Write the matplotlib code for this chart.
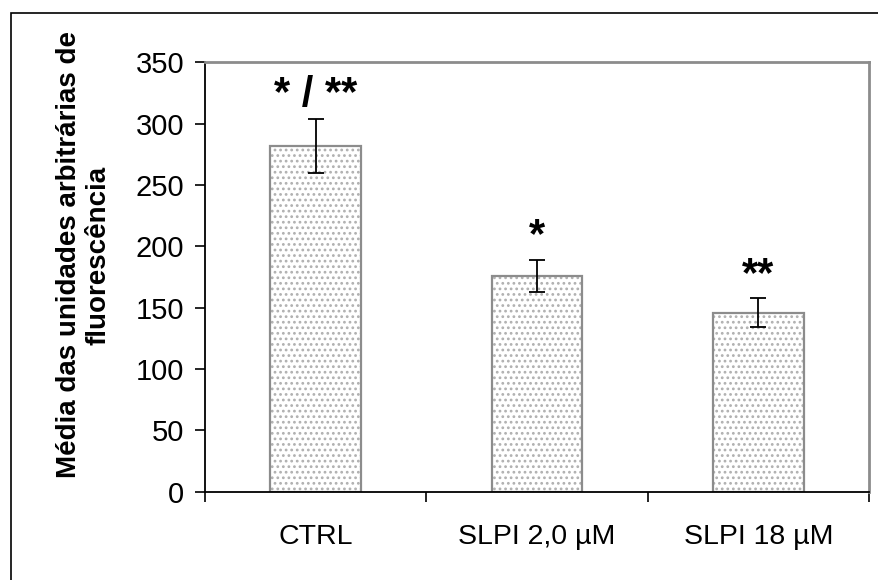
import matplotlib.pyplot as plt
import matplotlib.patches as mpatches
import numpy as np

plt.rcParams['font.family'] = ['Liberation Sans', 'DejaVu Sans']
plt.rcParams['hatch.linewidth'] = 1.2

# dados
grupos = ['CTRL', 'SLPI 2,0 µM', 'SLPI 18 µM']
medias = [282, 176, 146]
erros = [22, 13, 12]
marcas = ['* / **', '*', '**']

fig = plt.figure(figsize=(8.79, 5.8), dpi=100)
ax = fig.add_axes([205 / 879, 1 - 491.7 / 580, 664 / 879, 429.4 / 580])

x = np.arange(len(grupos))
# pontilhado claro + contorno cinza
ax.bar(x, medias, width=0.41, color='white', edgecolor='#b0b0b0',
       linewidth=0, hatch='...', zorder=2)
ax.bar(x, medias, width=0.41, fill=False, edgecolor='#8c8c8c',
       linewidth=1.6, zorder=2)
ax.errorbar(x, medias, yerr=erros, fmt='none', ecolor='black',
            elinewidth=1.3, capsize=6, capthick=1.3, zorder=3)

# asteriscos de significancia
for xi, m, e, txt in zip(x, medias, erros, marcas):
    ax.text(xi, m + e + 10, txt, ha='center', va='baseline',
            fontsize=30, fontweight='bold')

ax.set_xlim(-0.5, 2.5)
ax.set_ylim(0, 350)
ax.set_yticks(range(0, 351, 50))
ax.set_xticks(x)
ax.set_xticklabels(grupos)
ax.set_xticks([-0.5, 0.5, 1.5, 2.5], minor=True)
ax.tick_params(axis='x', which='major', length=0, pad=23, labelsize=20.5)
ax.tick_params(axis='x', which='minor', length=7, width=1.2, direction='out')
ax.tick_params(axis='y', length=7, width=1.2, direction='out', pad=8, labelsize=21)

for s in ['left', 'bottom']:
    ax.spines[s].set_color('black')
    ax.spines[s].set_linewidth(1.3)
for s in ['top', 'right']:
    ax.spines[s].set_color('#8c8c8c')
    ax.spines[s].set_linewidth(2)

fig.text(84 / 879, 1 - 255 / 580,
         'Média das unidades arbitrárias de\nfluorescência',
         rotation=90, ha='center', va='center', multialignment='center',
         fontsize=20, fontweight='bold', linespacing=1.2)

# moldura externa
fig.patches.append(mpatches.Rectangle((10.5 / 879, -0.1), 1.2, 1 - 12.5 / 580 + 0.1,
                                      transform=fig.transFigure, fill=False,
                                      edgecolor='black', linewidth=1.2))

fig.savefig('out.png', dpi=100)
